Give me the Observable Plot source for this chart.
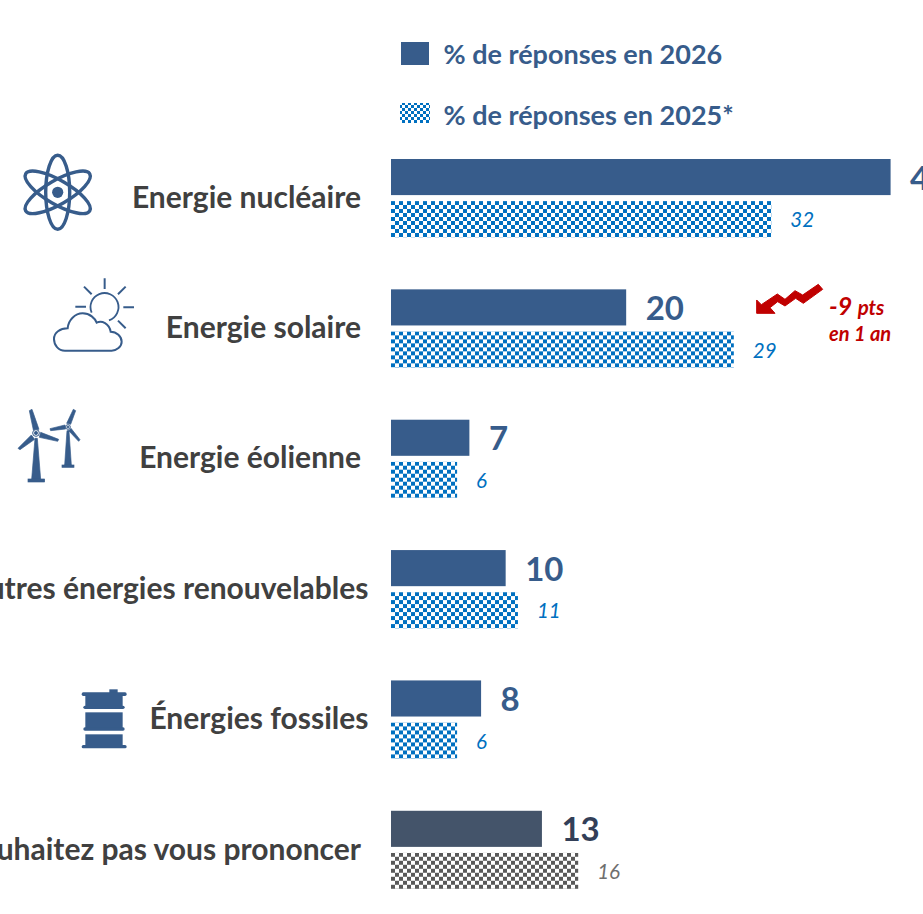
<!DOCTYPE html>
<html lang="fr">
<head>
<meta charset="utf-8">
<style>html,body{margin:0;padding:0;background:#fff;overflow:hidden}svg{display:block}</style>
<script src="https://cdn.jsdelivr.net/npm/d3@7"></script>
<script src="https://cdn.jsdelivr.net/npm/@observablehq/plot@0.6"></script>
</head>
<body>
<div id="chart"></div>
<script>
const categories = ["Energie nucléaire","Energie solaire","Energie éolienne","Autres énergies renouvelables","Énergies fossiles","Vous ne souhaitez pas vous prononcer"];
const labels2026 = [43,20,7,10,8,13];
const labels2025 = [32,29,6,11,6,16];
const bars2026 = [42.7,20.1,6.7,9.8,7.7,12.9];
const bars2025 = [32.5,29.3,5.65,10.85,5.65,16];
const years = ["2026","2025"];
const legendLabels = ["% de réponses en 2026","% de réponses en 2025*"];
const LAST = categories[5];
const FONT = "Lato, Carlito, Calibri, sans-serif";
const C26="#375C8B", C26L="#44546A", C25="#0070C0", G25="#595959";

const rows = categories.flatMap((c,i)=>[
  {cat:c,year:"2026",v:bars2026[i],label:labels2026[i]},
  {cat:c,year:"2025",v:bars2025[i],label:labels2025[i]}
]);
const r26 = rows.filter(d=>d.year==="2026"), r25 = rows.filter(d=>d.year==="2025");
const wideLabels = new Set([categories[3],categories[4]]);

function art(inner){
  const s = `<g xmlns="http://www.w3.org/2000/svg" text-anchor="start">${inner}</g>`;
  return new DOMParser().parseFromString(s,"image/svg+xml").documentElement;
}
function defs(){
  return art(`<defs>
  ${[["chk",C25,8],["chkG",G25,8],["chkS",C25,6]].map(([id,c,p])=>`<pattern id="${id}" width="${p}" height="${p}" patternUnits="userSpaceOnUse" ${p==8?'patternTransform="translate(391 1)"':''}>
  <rect width="${p/2}" height="${p/2}" fill="${c}"/><rect x="${p/2}" y="${p/2}" width="${p/2}" height="${p/2}" fill="${c}"/></pattern>`).join("")}
  </defs>`);
}
function legend(){
  const t = (y,l)=>`<text x="443.5" y="${y}" font-family="${FONT}" font-weight="700" font-size="27" fill="${C26}" dominant-baseline="central">${l}</text>`;
  return art(`<rect x="401" y="42" width="28" height="23" fill="${C26}"/>${t(53,legendLabels[0])}
  <rect x="400" y="103" width="30" height="20" fill="url(#chkS)"/>${t(114,legendLabels[1])}`);
}
function annotation(){
  return art(`<g transform="translate(730 270) scale(.3333)"><path fill="#C00000" stroke="#C00000" stroke-width="3" d="M265 43L278 58L220 100L197 85L165 108L143 95L120 113L135 130L80 130L80 90L94 104L142 72L165 88L195 62L218 75Z"/></g>
  <text x="829" y="315" font-family="${FONT}" font-style="italic" font-weight="700" fill="#C00000"><tspan font-size="25">-9 </tspan><tspan font-size="20.5">pts</tspan></text>
  <text x="829" y="341" font-family="${FONT}" font-style="italic" font-weight="700" font-size="20" fill="#C00000">en 1 an</text>`);
}
function icons(){
  return art(`
  <g fill="none" stroke="${C26}" stroke-width="3.4">
    <g transform="translate(57.7 192.3)">
      <ellipse rx="12" ry="37"/><ellipse rx="12" ry="37" transform="rotate(60)"/><ellipse rx="12" ry="37" transform="rotate(-60)"/>
      <circle r="5.6" fill="${C26}" stroke="none"/>
    </g>
  </g>
  <g transform="translate(0 140) scale(.3333)" fill="none" stroke="${C26}" stroke-width="5.5">
    <path d="M275 518A42 42 0 1 1 327 541"/>
    <path stroke-width="6" d="M314 415V447M252 440L275 463M226 500H258M370 502H402M377 440L354 463M354 542L377 565"/>
    <path fill="#fff" stroke-width="6" d="M195 632C175 632 162 615 162 597C162 578 180 565 203 565C205 540 225 520 248 520C270 520 285 535 290 548C305 540 328 550 332 575C350 575 365 590 365 605C365 620 350 632 335 632Z"/>
  </g>
  <g transform="translate(0 400) scale(.3333)" fill="${C26}" stroke="${C26}" stroke-width="2">
    <path d="M105 115L112 115L122 238L95 238Z"/><rect x="84" y="237" width="50" height="9"/>
    <path d="M88 32L96 28L117 88L100 90Z"/><path d="M122 97L176 118L173 124L118 112Z"/><path d="M94 105L104 118L60 149L54 145Z"/>
    <circle cx="108" cy="99" r="10" fill="#fff" stroke="${C26}" stroke-width="3"/><circle cx="108" cy="99" r="5"/>
    <path d="M201 92L207 92L214 195L194 195Z"/><rect x="186" y="195" width="36" height="7"/>
    <path d="M220 28L227 32L212 73L200 70Z"/><path d="M150 86L195 75L197 87L152 92Z"/><path d="M213 85L240 119L236 124L206 92Z"/>
    <circle cx="204" cy="81" r="7" fill="#fff" stroke="${C26}" stroke-width="3"/><circle cx="204" cy="81" r="3"/>
  </g>
  <g transform="translate(60 680) scale(.3333)" fill="${C26}">
    <rect x="148" y="28" width="25" height="12"/><rect x="65" y="37" width="135" height="11" rx="5"/>
    <rect x="76" y="45" width="112" height="36"/><rect x="70" y="77" width="124" height="10" rx="5"/>
    <rect x="76" y="97" width="112" height="48"/><rect x="70" y="142" width="124" height="10" rx="5"/>
    <rect x="76" y="163" width="112" height="35"/><rect x="65" y="195" width="135" height="10" rx="5"/>
  </g>`);
}

const chart = Plot.plot({
  width: 923, height: 914,
  marginLeft: 391, marginRight: 0, marginTop: 159, marginBottom: 25,
  style: {background:"#fff", fontFamily: FONT},
  x: {domain:[0,532/11.7], range:[391,923], axis:null},
  y: {domain:years, round:false, paddingInner:6/42, paddingOuter:0, axis:null},
  fy: {domain:categories, round:false, paddingInner:0.4, paddingOuter:0, axis:null},
  marks: [
    Plot.barX(r26,{x:"v",y:"year",fy:"cat",fill:d=>d.cat===LAST?C26L:C26}),
    Plot.barX(r25,{x:"v",y:"year",fy:"cat",fill:d=>d.cat===LAST?"url(#chkG)":"url(#chk)"}),
    Plot.text(r26,{x:"v",y:"year",fy:"cat",text:d=>String(d.label),textAnchor:"start",dx:19,dy:1.5,fontSize:33,fontWeight:700,fill:d=>d.cat===LAST?"#333F58":C26}),
    Plot.text(r25,{x:"v",y:"year",fy:"cat",text:d=>String(d.label),textAnchor:"start",dx:18.5,dy:1,fontSize:20.5,fontStyle:"italic",fill:d=>d.cat===LAST?"#6F6F6F":C25}),
    Plot.text(categories.filter(c=>!wideLabels.has(c)),{fy:d=>d,x:()=>0,frameAnchor:"middle",text:d=>d,textAnchor:"end",dx:-30.5,dy:-0.5,fontSize:30,fontWeight:700,fill:"#404040"}),
    Plot.text(categories.filter(c=>wideLabels.has(c)),{fy:d=>d,x:()=>0,frameAnchor:"middle",text:d=>d,textAnchor:"end",dx:-23,dy:-0.5,fontSize:30,fontWeight:700,fill:"#404040"})
  ]
});
chart.prepend(defs());
chart.append(legend(), annotation(), icons());
document.getElementById("chart").append(chart);
</script>
</body>
</html>
